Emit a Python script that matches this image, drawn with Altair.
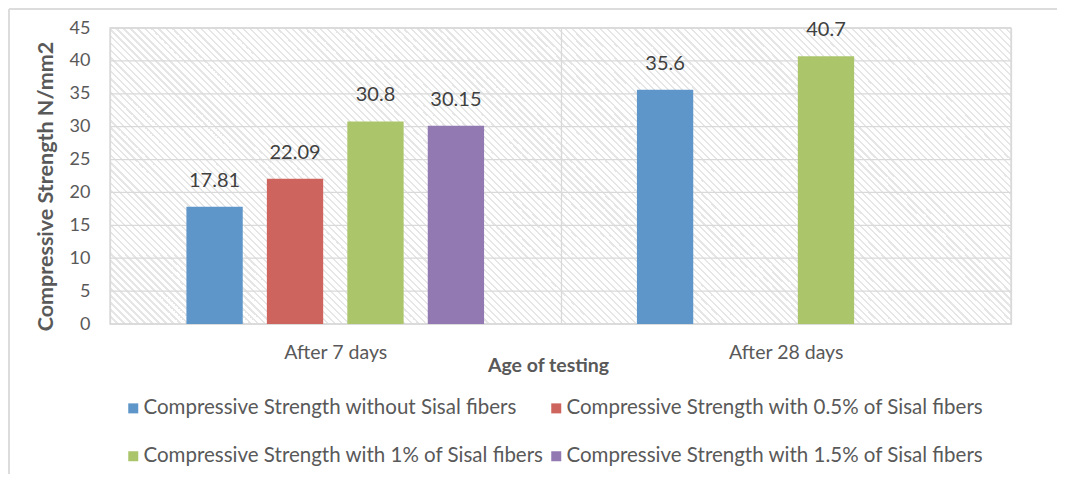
import math
import altair as alt
import pandas as pd

# ---------------- data ----------------
ages = ["After 7 days", "After 28 days"]
series = [
    "Compressive Strength without Sisal fibers",
    "Compressive Strength with 0.5% of Sisal fibers",
    "Compressive Strength with 1% of Sisal fibers",
    "Compressive Strength with 1.5% of Sisal fibers",
]
colors = ["#5f96c9", "#cd645d", "#abc56b", "#9279b2"]
values_7_days = [17.81, 22.09, 30.8, 30.15]
values_28_days = [35.6, None, 40.7, None]
y_ticks = [0, 5, 10, 15, 20, 25, 30, 35, 40, 45]

rows = []
for age, vals in zip(ages, [values_7_days, values_28_days]):
    for s, v in zip(series, vals):
        if v is not None:
            rows.append({"age": age, "series": s, "value": v, "label": f"{v:g}"})
df = pd.DataFrame(rows)

# ---------------- style ----------------
W, H = 901, 296
PAD_L, PAD_T, PAD_R, PAD_B = 102, 20, 46, 150
FONT = "Lato"
TXT = "#595959"
GRID = "#d9d9d9"

# diagonal hatch for the plot background, built as a striped linear gradient
L = (W + H) / math.sqrt(2)
period = 7 / math.sqrt(2)
k = (W + H) / (W * W + H * H)
stops = []
n = int(L / period) + 2
for i in range(n):
    a = min(1.0, i * period / L)
    b = min(1.0, (i * period + period * 0.35) / L)
    c = min(1.0, (i + 1) * period / L)
    stops += [
        alt.GradientStop(offset=a, color="#e6e6e6"),
        alt.GradientStop(offset=b, color="#e6e6e6"),
        alt.GradientStop(offset=b, color="#ffffff"),
        alt.GradientStop(offset=c, color="#ffffff"),
    ]
hatch = alt.LinearGradient(
    gradient="linear", stops=stops,
    x1=0, y1=1, x2=W * k, y2=1 - H * k,
)

yscale = alt.Scale(domain=[0, 45], nice=False, zero=True)
yaxis = alt.Axis(
    title="Compressive Strength N/mm2", titleFont=FONT, titleFontSize=21.5,
    titleFontWeight="bold", titleColor=TXT,
    titleX=-64, titleY=158, titleAngle=-90, titleAlign="center",
    titleBaseline="middle",
    values=y_ticks, labelFont=FONT, labelFontSize=18, labelColor=TXT,
    labelPadding=20, domain=False, ticks=False, grid=False,
)

one = alt.Data(values=[{}])

# light frame around the whole chart (left and top edges)
frame_left = alt.Chart(one).mark_rule(color="#dcdcdc", strokeWidth=2).encode(
    x=alt.value(-PAD_L + 1), y=alt.value(-PAD_T + 1), y2=alt.value(H + PAD_B)
)
frame_top = alt.Chart(one).mark_rule(color="#dcdcdc", strokeWidth=2).encode(
    x=alt.value(-PAD_L + 1), x2=alt.value(W + PAD_R), y=alt.value(-PAD_T + 1)
)

bg = alt.Chart(one).mark_rect(
    fill=hatch, stroke=GRID, strokeWidth=1.3
).encode(
    x=alt.value(0), x2=alt.value(W), y=alt.value(0), y2=alt.value(H)
)

ygrid = alt.Chart(pd.DataFrame({"value": y_ticks})).mark_rule(
    color=GRID, strokeWidth=1.3
).encode(y=alt.Y("value:Q", scale=yscale, axis=yaxis))

base = alt.Chart(df).encode(
    x=alt.X(
        "age:N", sort=ages,
        scale=alt.Scale(paddingInner=0, paddingOuter=0),
        axis=alt.Axis(
            title="Age of testing", titleFont=FONT, titleFontSize=19.5,
            titleFontWeight="bold", titleColor=TXT,
            titleX=438, titleY=41, titleAlign="center", titleBaseline="middle",
            labelAngle=0, labelFont=FONT, labelFontSize=19.5, labelColor=TXT,
            labelPadding=19, domain=False, ticks=False,
            grid=True, gridColor=GRID, gridWidth=1.3, tickBand="extent", zindex=1,
        ),
    ),
    xOffset=alt.XOffset(
        "series:N", sort=series,
        scale=alt.Scale(domain=series, paddingInner=0.3, paddingOuter=0.95),
    ),
    y=alt.Y("value:Q", scale=yscale, axis=yaxis),
)

bars = base.mark_bar().encode(
    color=alt.Color(
        "series:N", sort=series,
        scale=alt.Scale(domain=series, range=colors),
        legend=alt.Legend(
            title=None, orient="none", legendX=13, legendY=370,
            direction="horizontal",
            columns=2, columnPadding=2, rowPadding=27,
            symbolType="square", symbolSize=100, symbolStrokeWidth=0,
            labelFont=FONT, labelFontSize=20.5, labelColor=TXT,
            labelLimit=0, labelOffset=0, padding=0,
        ),
    )
)

texts = base.mark_text(
    font=FONT, fontSize=20, color="#404040", dy=-26, baseline="middle"
).encode(text="label:N")

chart = alt.layer(frame_left, frame_top, bg, ygrid, bars, texts).properties(
    width=W, height=H,
    autosize=alt.AutoSizeParams(type="none"),
    padding={"left": PAD_L, "top": PAD_T, "right": PAD_R, "bottom": PAD_B},
).configure_view(stroke=None)

chart.save("out.html", embed_options={"renderer": "svg", "actions": False})
